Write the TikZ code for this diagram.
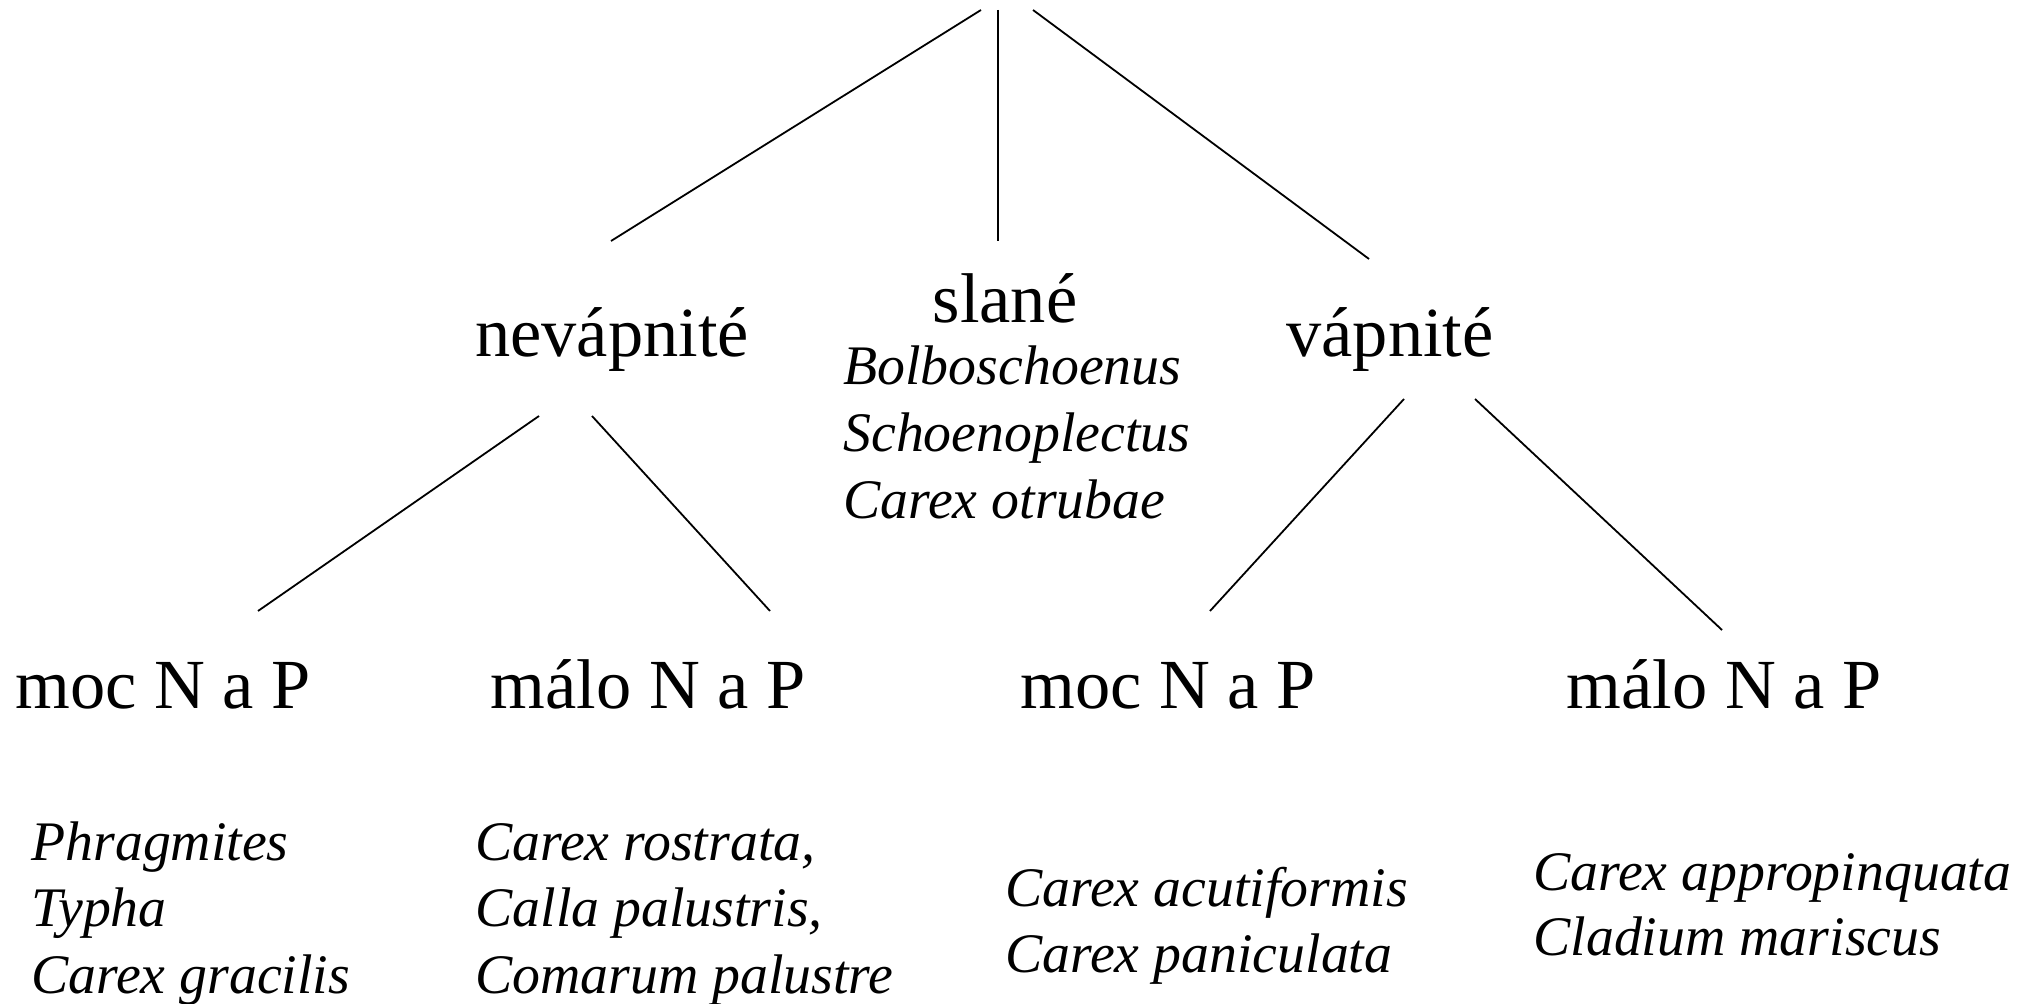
\documentclass[tikz,border=0pt]{standalone}
\usepackage{fontspec}
\setmainfont{Liberation Serif}
\usetikzlibrary{positioning}

\tikzset{
    branch/.style={line width=0.9pt},
    group/.style={inner sep=0pt, anchor=base, font=\fontsize{35.2}{40}\selectfont},
    species/.style={inner sep=0pt, anchor=base west, font=\fontsize{27.9}{33}\selectfont\itshape},
}

\begin{document}
\begin{tikzpicture}[x=0.5pt, y=-0.5pt]
    \useasboundingbox (0,0) rectangle (2033,1004);
    % top fork
    \coordinate (tL) at (981,10);
    \coordinate (tM) at (998,10);
    \coordinate (tR) at (1033,10);
    \coordinate (nevTop) at (611,241);
    \coordinate (slaTop) at (998,241);
    \coordinate (vapTop) at (1369,259);
    \draw[branch] (tL) -- (nevTop);
    \draw[branch] (tM) -- (slaTop);
    \draw[branch] (tR) -- (vapTop);
    % second level
    \node[group] (nev) at (612,357) {nevápnité};
    \node[group] (sla) at (1005,323) {slané};
    \node[group] (vap) at (1390,357) {vápnité};
    \foreach \t [count=\i] in {Bolboschoenus, Schoenoplectus, Carex otrubae}
        \node[species] (sla\i) at (843,385+67*\i-67) {\t};
    % forks to third level
    \coordinate (nevL) at (539,416);
    \coordinate (nevR) at (592,416);
    \coordinate (vapL) at (1404,399);
    \coordinate (vapR) at (1475,399);
    \coordinate (mocAtop) at (258,611);
    \coordinate (maloAtop) at (770,611);
    \coordinate (mocBtop) at (1210,611);
    \coordinate (maloBtop) at (1722,630);
    \draw[branch] (nevL) -- (mocAtop);
    \draw[branch] (nevR) -- (maloAtop);
    \draw[branch] (vapL) -- (mocBtop);
    \draw[branch] (vapR) -- (maloBtop);
    % third level
    \node[group] (mocA) at (163,708) {moc N a P};
    \node[group] (maloA) at (648,708) {málo N a P};
    \node[group] (mocB) at (1168,708) {moc N a P};
    \node[group] (maloB) at (1724,708) {málo N a P};
    % species lists
    \foreach \t [count=\i] in {Phragmites, Typha, Carex gracilis}
        \node[species] (mocA\i) at (31,860+66.5*\i-66.5) {\t};
    \foreach \t [count=\i] in {{Carex rostrata,}, {Calla palustris,}, Comarum palustre}
        \node[species] (maloA\i) at (475,860+66.5*\i-66.5) {\t};
    \foreach \t [count=\i] in {Carex acutiformis, Carex paniculata}
        \node[species] (mocB\i) at (1005,906+66*\i-66) {\t};
    \foreach \t [count=\i] in {Carex appropinquata, Cladium mariscus}
        \node[species] (maloB\i) at (1533,890+65*\i-65) {\t};
\end{tikzpicture}
\end{document}
